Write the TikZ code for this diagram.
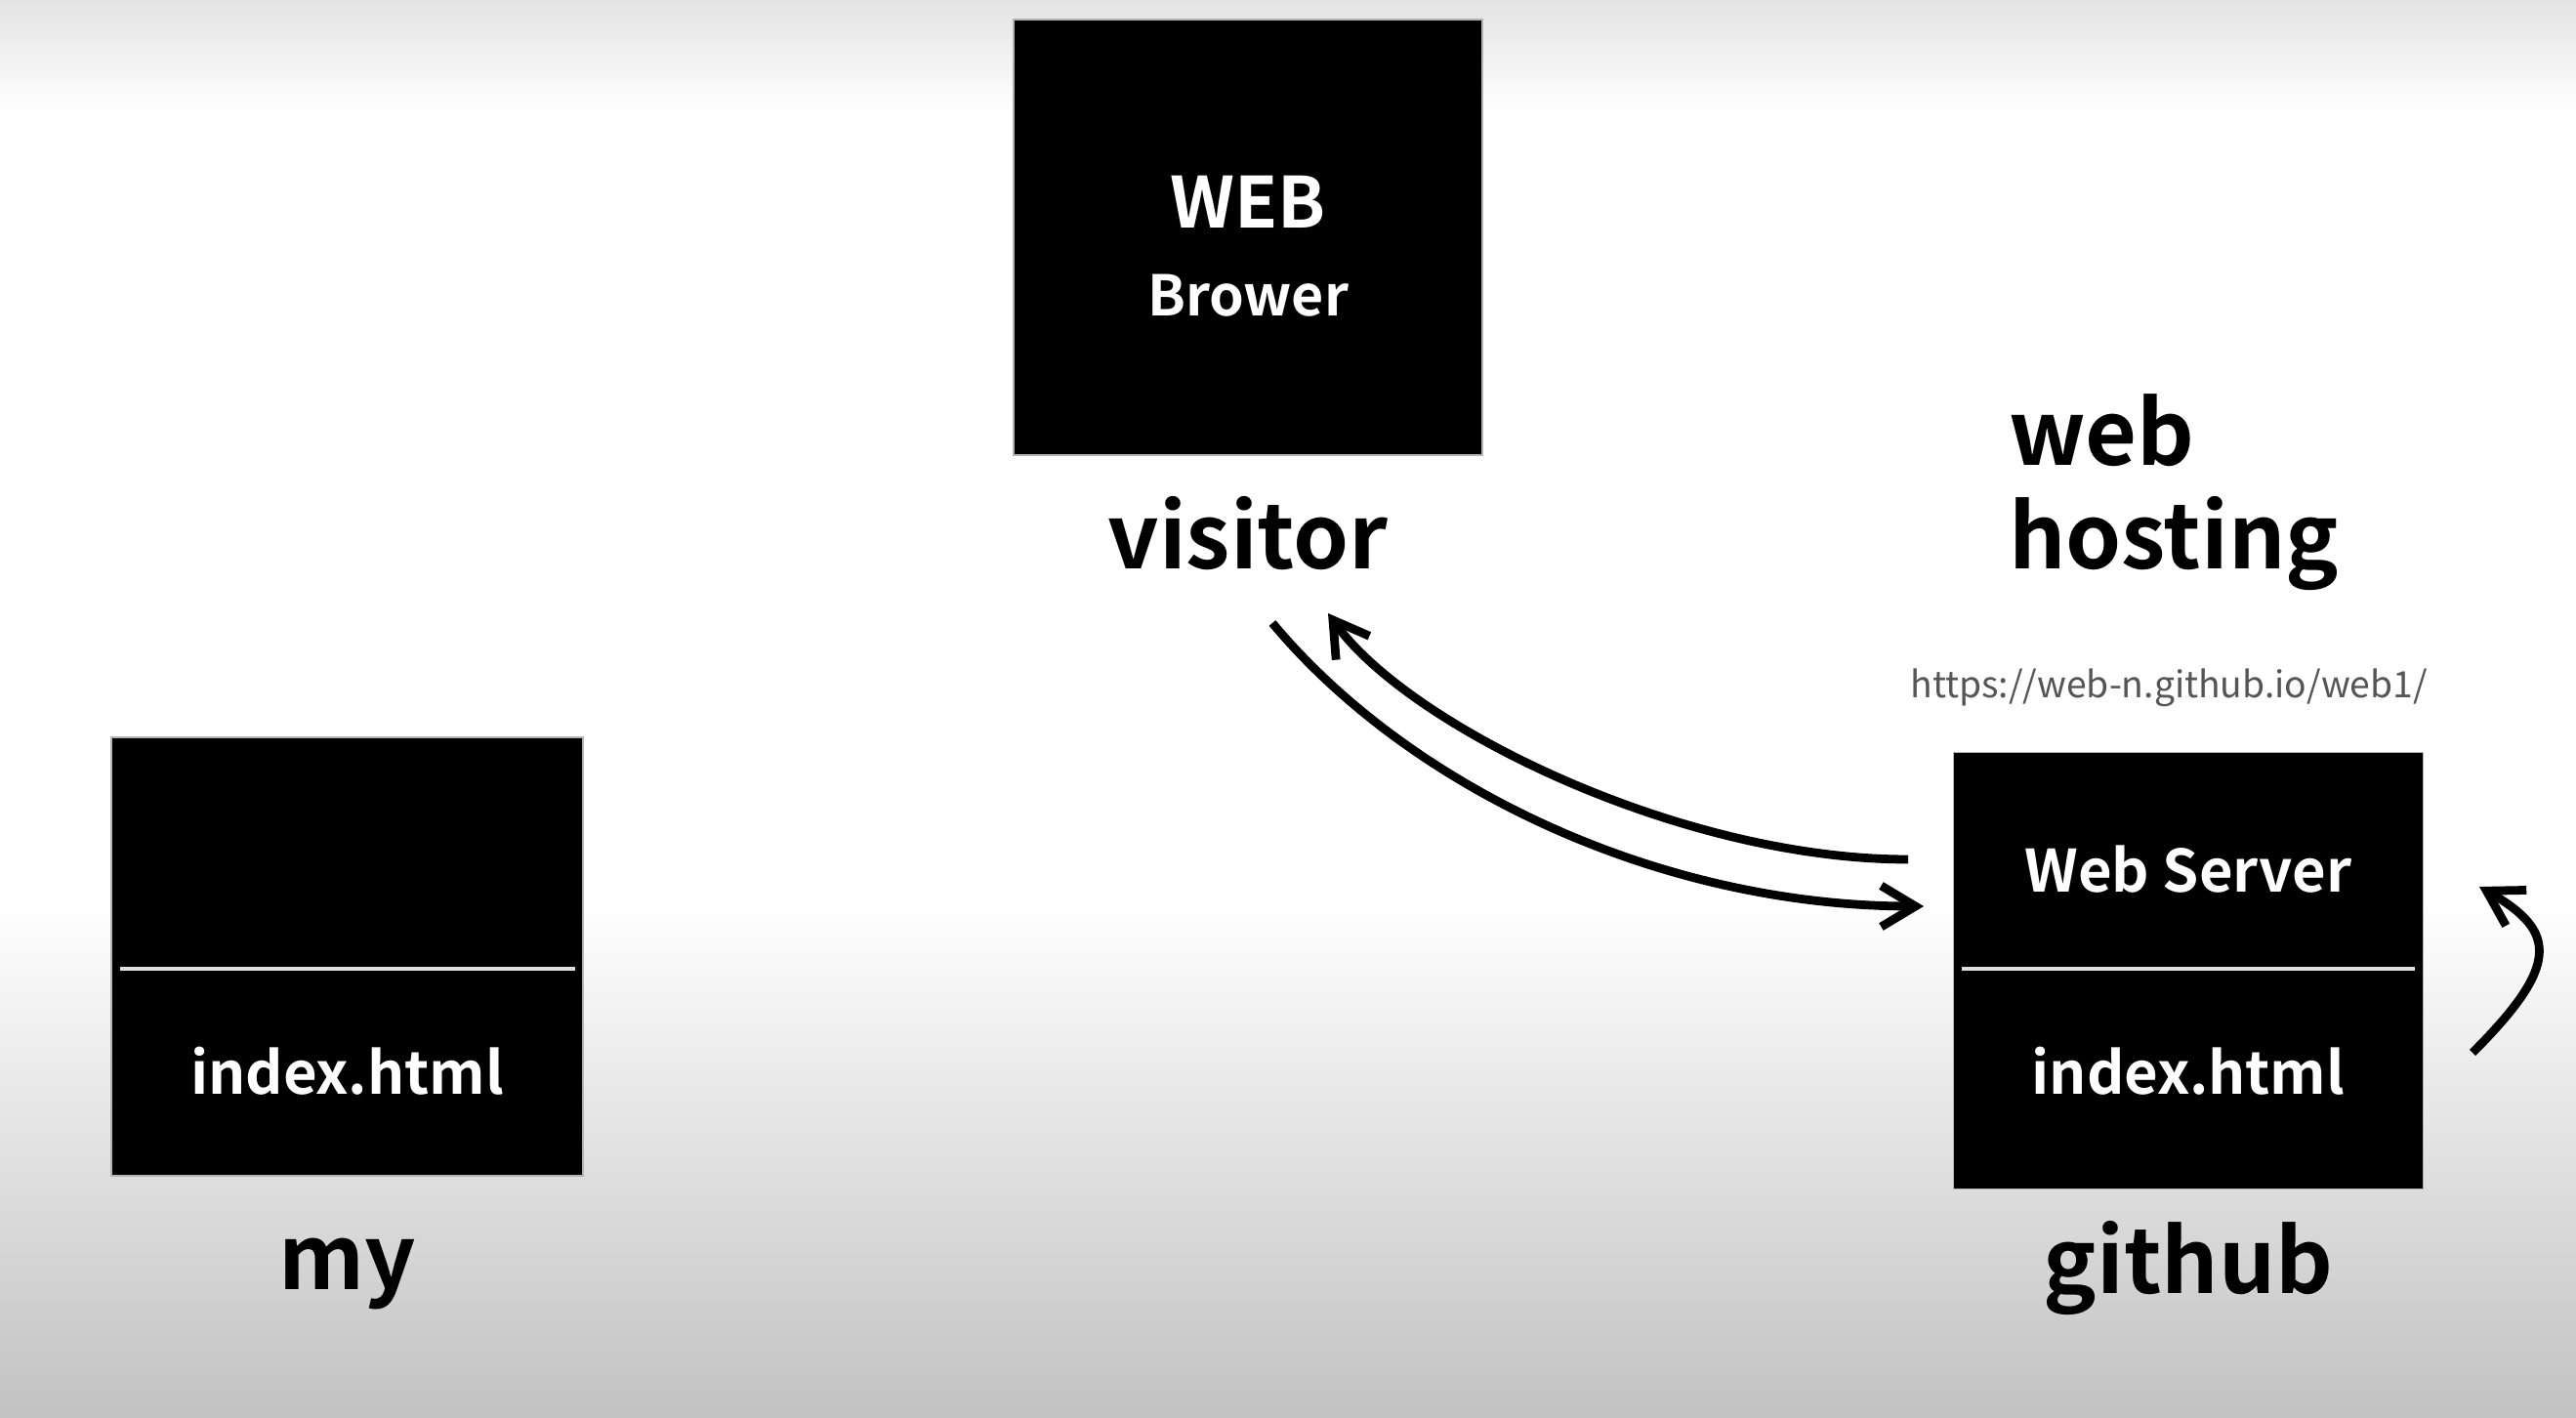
\documentclass[tikz,border=0pt]{standalone}
\usepackage{fontspec}
\setmainfont{Noto Sans CJK KR}[BoldFont={Noto Sans CJK KR Bold}]
\usetikzlibrary{arrows.meta}
\definecolor{sepgray}{HTML}{DDDDDD}
\definecolor{urlgray}{HTML}{555555}
\begin{document}
\begin{tikzpicture}[every node/.style={font=\bfseries},
    box/.style={fill=black,draw=gray!60,line width=.3pt,inner sep=0pt},
    inbox/.style={text=white,anchor=base,font=\bfseries\fontsize{17}{20}\selectfont},
    caption/.style={anchor=base,font=\bfseries\fontsize{26}{30}\selectfont},
    flow/.style={line width=2.5pt,-{Straight Barb[length=3.5mm,width=4.2mm]}},
    sep/.style={sepgray,line width=1pt}]
    % background
    \useasboundingbox (0,0) rectangle (26.38,14.52);
    \fill[white] (0,0) rectangle (26.38,14.52);
    \shade[top color=gray!22,bottom color=white] (0,13.4) rectangle (26.38,14.52);
    \shade[top color=white,bottom color=gray!48] (0,0) rectangle (26.38,5.3);
    % visitor
    \node[box,minimum width=4.8cm,minimum height=4.46cm] (browser) at (12.78,12.09) {};
    \node[inbox,font=\bfseries\fontsize{20.5}{24}\selectfont] (webtxt) at (12.78,12.18) {WEB};
    \node[inbox,font=\bfseries\fontsize{16.3}{20}\selectfont] (brower) at (12.78,11.28) {Brower};
    \node[caption] (visitor) at (12.78,8.69) {visitor};
    % my
    \node[box,minimum width=4.83cm,minimum height=4.49cm] (mybox) at (3.555,4.725) {};
    \draw[sep] (1.23,4.60) -- (5.89,4.60);
    \node[inbox] (myindex) at (3.555,3.31) {index.html};
    \node[caption] (my) at (3.555,1.31) {my};
    % github
    \node[box,minimum width=4.81cm,minimum height=4.475cm] (ghbox) at (22.41,4.58) {};
    \draw[sep] (20.09,4.60) -- (24.73,4.60);
    \node[inbox] (server) at (22.41,5.38) {Web Server};
    \node[inbox] (ghindex) at (22.41,3.31) {index.html};
    \node[caption] (github) at (22.41,1.27) {github};
    \node[caption,anchor=base west] (hostweb) at (20.45,9.75) {web};
    \node[caption,anchor=base west] (hosting) at (20.45,8.69) {hosting};
    \node[anchor=base,font=\fontsize{10.6}{13}\selectfont,text=urlgray] (url) at (22.21,7.37) {https://web-n.github.io/web1/};
    % arrows
    \coordinate (s1) at (19.54,5.72);
    \coordinate (e1) at (13.60,8.24);
    \coordinate (s2) at (13.03,8.14);
    \coordinate (e2) at (19.70,5.24);
    \coordinate (s3) at (25.32,3.74);
    \coordinate (e3) at (25.39,5.44);
    \draw[flow] (s1) .. controls (17.2,5.72) and (14.42,7.09) .. (e1);
    \draw[flow] (s2) .. controls (14.44,6.45) and (17.0,5.24) .. (e2);
    \draw[flow] (s3) .. controls (26.21,4.63) and (26.19,4.98) .. (e3);
\end{tikzpicture}
\end{document}
